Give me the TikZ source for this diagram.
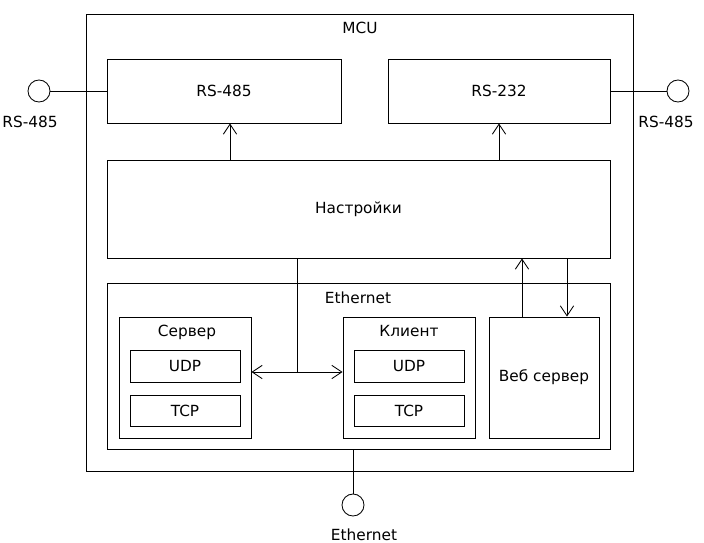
\documentclass[tikz,border=0pt]{standalone}
\usepackage{fontspec}
\setmainfont{DejaVu Sans}
\usetikzlibrary{arrows.meta, calc}

\begin{document}
\begin{tikzpicture}[
  x=0.75pt, y=-0.75pt,
  every node/.style={font=\fontsize{11.5}{13}\selectfont},
  blk/.style={
    rectangle, draw, line width=0.65pt, inner sep=0pt
  },
  port/.style={
    circle, draw, line width=0.65pt, minimum size=16.5pt, inner sep=0pt
  },
  wire/.style={line width=0.65pt},
  arr/.style={wire, -{Straight Barb[length=7.5pt, width=10pt]}},
  biarr/.style={wire, {Straight Barb[length=7.5pt, width=10pt]}-{Straight Barb[length=7.5pt, width=10pt]}},
]
\useasboundingbox (0,0) rectangle (704,543);

%% ── MCU frame ────────────────────────────────────────────────────────────────
\node[blk, minimum width=410.25pt, minimum height=342.75pt] (mcu) at (359.5, 242.5) {};
\node (mcuLbl) at (360, 28) {MCU};

%% ── Serial interfaces ────────────────────────────────────────────────────────
\node[blk, minimum width=175.5pt, minimum height=48pt] (rs485) at (224, 91) {RS-485};
\node[blk, minimum width=166.5pt, minimum height=48pt] (rs232) at (499, 91) {RS-232};

\node[blk, minimum width=377.25pt, minimum height=73.5pt] (setup) at (358.5, 209) {Настройки};

%% ── Ethernet block ───────────────────────────────────────────────────────────
\node[blk, minimum width=377.25pt, minimum height=124.5pt] (eth) at (358.5, 366) {};
\node (ethLbl) at (358, 298) {Ethernet};

% server
\node[blk, minimum width=99pt, minimum height=90.75pt] (srv) at (185, 377.5) {};
\node (srvLbl) at (187, 332) {Сервер};
\node[blk, minimum width=82.5pt, minimum height=24pt] (srvUdp) at (185, 366) {UDP};
\node[blk, minimum width=82.5pt, minimum height=23.25pt] (srvTcp) at (185, 410.5) {TCP};

% client
\node[blk, minimum width=99pt, minimum height=90.75pt] (cli) at (409, 377.5) {};
\node (cliLbl) at (409, 331) {Клиент};
\node[blk, minimum width=82.5pt, minimum height=24pt] (cliUdp) at (409, 366) {UDP};
\node[blk, minimum width=82.5pt, minimum height=23.25pt] (cliTcp) at (409, 410.5) {TCP};

\node[blk, minimum width=82.5pt, minimum height=90.75pt] (web) at (544, 377.5) {Веб сервер};

%% ── External ports ───────────────────────────────────────────────────────────
\node[port] (portL) at (39, 91) {};
\node (portLLbl) at (30, 122) {RS-485};
\node[port] (portR) at (678, 91) {};
\node (portRLbl) at (666, 122) {RS-485};
\node[port] (portEth) at (353, 505) {};
\node (portEthLbl) at (364, 535) {Ethernet};

%% ── Connections ──────────────────────────────────────────────────────────────
\draw[wire] (portL) -- (rs485.west);
\draw[wire] (rs232.east) -- (portR);
\draw[wire] (portEth) -- (portEth |- eth.south);

\draw[arr] ([xshift=4.5pt]rs485.south |- setup.north) -- ([xshift=4.5pt]rs485.south);
\draw[arr] (rs232.south |- setup.north) -- (rs232.south);

% web server <-> settings
\draw[arr] ([xshift=-16.5pt]web.north) -- ([xshift=-16.5pt]web.north |- setup.south);
\draw[arr] ([xshift=17.25pt]web.north |- setup.south) -- ([xshift=17.25pt]web.north);

% server <-> client
\coordinate (jn) at (297, 372);
\draw[biarr] (srv.east |- jn) -- (cli.west |- jn);
\draw[wire] (setup.south -| jn) -- (jn);

\end{tikzpicture}
\end{document}
